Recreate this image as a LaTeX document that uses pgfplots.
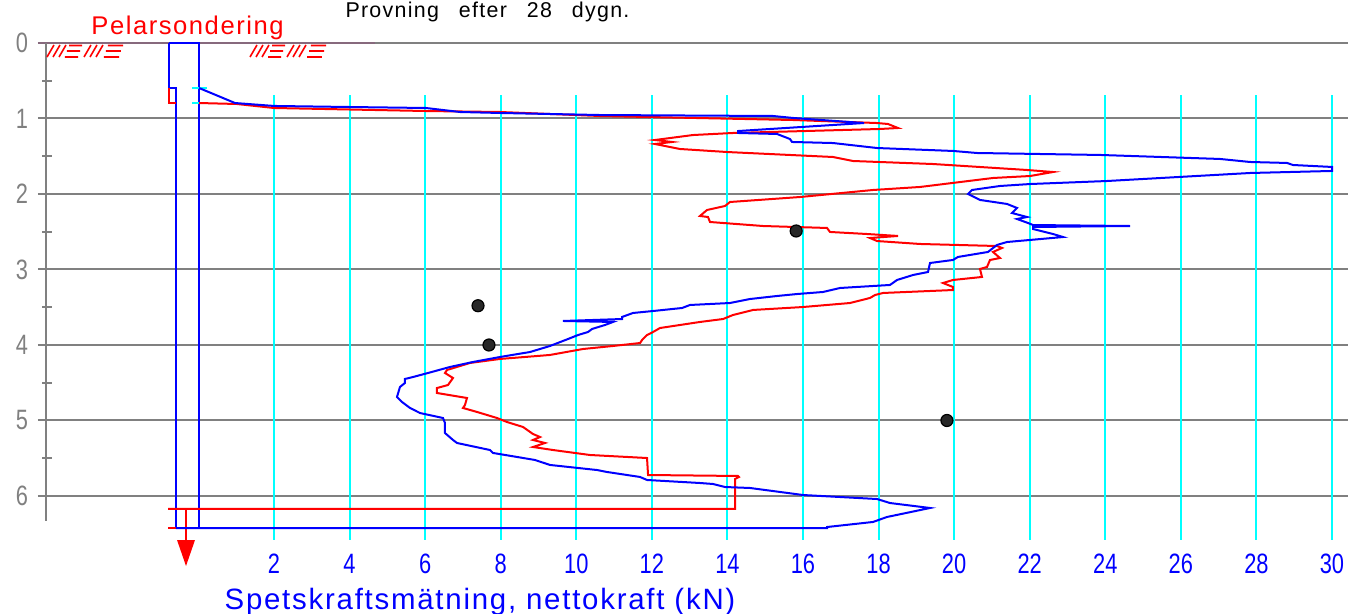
\documentclass[border=0pt]{standalone}
\usepackage{fontspec}
\usepackage{pgfplots}
\pgfplotsset{compat=1.18}
\setmainfont{Liberation Sans}
\newfontfamily\cadfont{Liberation Sans}[LetterSpace=6]
\newfontfamily\digfont{Liberation Sans}[FakeStretch=0.78]
\definecolor{cadblue}{RGB}{0,0,255}
\definecolor{cadred}{RGB}{255,0,0}
\definecolor{cadcyan}{RGB}{0,255,255}
\definecolor{cadgray}{RGB}{128,128,128}
\definecolor{cadmauve}{RGB}{135,105,125}
\definecolor{dotfill}{RGB}{40,40,40}
% pixel-to-data helper for the decorative hatching
\newcommand\pxc[2]{(axis cs:{((#1)-198.4)/37.786},{((#2)-43)/75.5})}
\newcommand\hatchgroup[1]{%
  \draw[cadred, line width=0.8pt]
    \pxc{#1}{57} -- \pxc{#1+7}{45}
    \pxc{#1+6}{57} -- \pxc{#1+13}{45}
    \pxc{#1+12}{57} -- \pxc{#1+19}{45}
    \pxc{#1+18}{57} -- \pxc{#1+31}{57}
    \pxc{#1+20}{51} -- \pxc{#1+33}{51}
    \pxc{#1+22}{45.5} -- \pxc{#1+35}{45.5}
    \pxc{#1+37}{57} -- \pxc{#1+44}{45}
    \pxc{#1+43}{57} -- \pxc{#1+50}{45}
    \pxc{#1+49}{57} -- \pxc{#1+56}{45}
    \pxc{#1+57}{57} -- \pxc{#1+72}{57}
    \pxc{#1+59}{51} -- \pxc{#1+74}{51}
    \pxc{#1+61}{45.5} -- \pxc{#1+76}{45.5};}

\begin{document}
\begin{tikzpicture}
\begin{axis}[
  width=674pt, height=307pt, scale only axis,
  xmin=-5.2506, xmax=30.424,
  ymin=-0.56954, ymax=7.5629,
  y dir=reverse,
  axis lines=none, ticks=none,
  clip=false,
]
% gray depth grid
\pgfplotsinvokeforeach{1,...,6}{
  \draw[cadgray, line width=1pt] (axis cs:-4.245,#1) -- (axis cs:30.43,#1);
}
\draw[cadgray, line width=1pt] (axis cs:-4.245,0) -- (axis cs:30.43,0);
\draw[cadmauve, line width=1pt] (axis cs:-4.245,0) -- (axis cs:4.674,0);
\draw[cadgray, line width=1pt] (axis cs:-4.033,0) -- (axis cs:-4.033,6.33);
\pgfplotsinvokeforeach{0.5,1.5,2.5,3.5,4.5,5.5}{
  \draw[cadgray, line width=1pt] (axis cs:-4.139,#1) -- (axis cs:-3.874,#1);
}
% cyan force grid
\pgfplotsinvokeforeach{2,4,...,30}{
  \draw[cadcyan, line width=1pt] (axis cs:#1,0.69) -- (axis cs:#1,6.58);
}
% depth labels
\pgfplotsinvokeforeach{0,...,6}{
  \node[text=cadgray, inner sep=0pt, font=\digfont\fontsize{14}{14}\selectfont] at (axis cs:-4.668,#1) {#1};
}
% force labels
\pgfplotsinvokeforeach{2,4,...,30}{
  \node[text=cadblue, inner sep=0pt, font=\digfont\fontsize{14}{14}\selectfont] at (axis cs:#1,6.90) {#1};
}
\node[anchor=base, inner sep=0pt, text=cadblue, font=\cadfont\fontsize{14.7}{15}\selectfont]
  at (axis cs:7.452,7.497) {Spetskraftsmätning, nettokraft (kN)};
\node[anchor=base, inner sep=0pt, text=cadred, font=\cadfont\fontsize{12.8}{13}\selectfont]
  at (axis cs:-0.288,-0.106) {Pelarsondering};
\node[anchor=base, inner sep=0pt, text=black, font=\cadfont\fontsize{10.7}{11}\selectfont]
  at (axis cs:7.651,-0.344) {Provning\hspace{10pt}efter\hspace{10pt}28\hspace{10pt}dygn.};
% hatching
\hatchgroup{47}
\hatchgroup{250}
% rod
\draw[cadblue, line width=1pt] (axis cs:-0.778,0) -- (axis cs:-0.778,0.596) -- (axis cs:-0.593,0.596) -- (axis cs:-0.593,6.424);
\draw[cadblue, line width=1pt] (axis cs:-0.778,0) -- (axis cs:0.016,0) -- (axis cs:0.016,6.424);
\draw[cadred, line width=1pt] (axis cs:-0.778,0.596) -- (axis cs:-0.778,0.795) -- (axis cs:-0.593,0.795);
\draw[cadred, line width=1pt] (axis cs:-0.804,6.424) -- (axis cs:-0.593,6.424);
\draw[cadcyan, line width=1pt] (axis cs:-0.164,0.596) -- (axis cs:0.233,0.596);
\draw[cadcyan, line width=1pt] (axis cs:-0.164,0.795) -- (axis cs:0.233,0.795);
% arrow
\draw[cadred, line width=1pt] (axis cs:-0.328,6.172) -- (axis cs:-0.328,6.62);
\fill[cadred] (axis cs:-0.566,6.583) -- (axis cs:-0.090,6.583) -- (axis cs:-0.328,6.927) -- cycle;

% red curve
\addplot[cadred, line width=1pt, mark=none] coordinates {
(0.016,0.795) (1.016,0.808) (2.001,0.861) (6.023,0.901) (7.982,0.914) (10.628,0.967)
(15.736,1.020) (17.960,1.060) (18.251,1.073) (18.516,1.126) (18.039,1.139) (14.148,1.192)
(13.090,1.219) (12.084,1.285) (12.534,1.311) (12.084,1.338) (12.746,1.404) (13.990,1.444)
(16.795,1.510) (17.324,1.563) (19.441,1.603) (21.929,1.682) (22.617,1.709) (22.008,1.762)
(21.029,1.788) (19.097,1.907) (17.854,1.947) (15.922,2.040) (14.069,2.106) (13.937,2.159)
(13.460,2.212) (13.275,2.291) (13.487,2.305) (13.540,2.371) (14.942,2.424) (16.636,2.450)
(16.715,2.503) (17.695,2.530) (18.516,2.556) (17.774,2.583) (17.960,2.623) (19.097,2.662)
(21.134,2.689) (21.267,2.715) (21.029,2.768) (21.214,2.848) (20.950,2.874) (20.870,2.967)
(20.685,2.993) (20.738,3.099) (19.970,3.139) (19.706,3.179) (19.970,3.232) (19.970,3.272)
(18.118,3.311) (17.907,3.338) (17.774,3.377) (17.245,3.444) (16.001,3.497) (14.678,3.536)
(14.148,3.603) (13.884,3.656) (13.275,3.695) (12.217,3.775) (12.031,3.828) (11.873,3.868)
(11.741,3.934) (11.688,3.974) (10.973,4.013) (10.179,4.053) (9.305,4.132) (8.961,4.146)
(7.982,4.185) (7.188,4.238) (6.579,4.331) (6.526,4.371) (6.738,4.437) (6.606,4.530)
(6.314,4.570) (6.314,4.636) (7.108,4.702) (7.055,4.795) (7.002,4.834) (7.373,4.887)
(7.902,4.967) (8.167,5.020) (8.591,5.086) (8.855,5.179) (9.041,5.219) (8.855,5.258)
(9.173,5.298) (8.855,5.351) (9.384,5.391) (10.363,5.457) (11.873,5.497) (11.900,5.722)
(14.281,5.735) (14.307,5.748) (14.201,5.775) (14.201,6.172) (-0.804,6.172)
};
% blue curve
\addplot[cadblue, line width=1pt, mark=none] coordinates {
(0.016,0.596) (0.969,0.795) (2.001,0.834) (4.012,0.848) (6.023,0.861) (6.923,0.914)
(7.982,0.927) (10.628,0.954) (15.207,0.967) (15.736,0.993) (17.615,1.060) (14.281,1.166)
(14.281,1.192) (15.313,1.205) (15.657,1.272) (15.710,1.311) (16.795,1.325) (17.960,1.391)
(19.971,1.430) (20.606,1.457) (23.861,1.483) (27.037,1.536) (27.831,1.576) (28.810,1.589)
(28.969,1.616) (30.001,1.642) (30.001,1.695) (27.831,1.722) (24.046,1.828) (22.008,1.868)
(21.214,1.894) (20.473,1.947) (20.367,2.000) (20.685,2.079) (21.399,2.132) (21.664,2.185)
(21.532,2.252) (21.929,2.305) (21.664,2.331) (21.955,2.384) (22.088,2.411) (24.655,2.424)
(22.088,2.437) (22.088,2.464) (22.617,2.530) (22.882,2.570) (21.399,2.636) (21.134,2.675)
(20.896,2.768) (20.102,2.834) (19.970,2.874) (19.362,2.914) (19.309,3.033) (18.912,3.073)
(18.489,3.139) (18.303,3.205) (16.980,3.245) (16.530,3.298) (15.842,3.325) (15.313,3.351)
(14.598,3.391) (14.069,3.444) (13.011,3.470) (12.799,3.510) (12.031,3.550) (11.502,3.576)
(11.211,3.629) (11.211,3.656) (9.649,3.682) (10.972,3.695) (10.761,3.735) (10.417,3.788)
(10.311,3.828) (10.046,3.868) (9.781,3.921) (9.305,4.013) (8.776,4.093) (7.982,4.159)
(7.267,4.225) (6.659,4.291) (6.076,4.371) (5.679,4.424) (5.467,4.450) (5.467,4.503)
(5.335,4.556) (5.255,4.689) (5.388,4.755) (5.600,4.834) (5.865,4.901) (6.473,4.967)
(6.526,5.033) (6.526,5.166) (6.738,5.258) (6.844,5.298) (7.717,5.391) (7.797,5.430)
(8.908,5.523) (9.305,5.589) (10.549,5.656) (10.814,5.682) (11.688,5.748) (11.873,5.788)
(13.275,5.828) (13.619,5.841) (13.937,5.881) (14.598,5.894) (16.001,5.987) (17.960,6.040)
(18.303,6.093) (19.362,6.159) (18.224,6.278) (17.854,6.344) (16.636,6.411) (16.636,6.424)
(-0.593,6.424)
};
% test points
\addplot[only marks, mark=*, mark size=3pt, mark options={fill=dotfill, draw=black, line width=0.6pt}] coordinates {
(15.82,2.49) (7.40,3.48) (7.69,4.00) (19.81,5.00)
};
\end{axis}
\pgfresetboundingbox
\path (current axis.south west) rectangle (current axis.north east);
\end{tikzpicture}
\end{document}
